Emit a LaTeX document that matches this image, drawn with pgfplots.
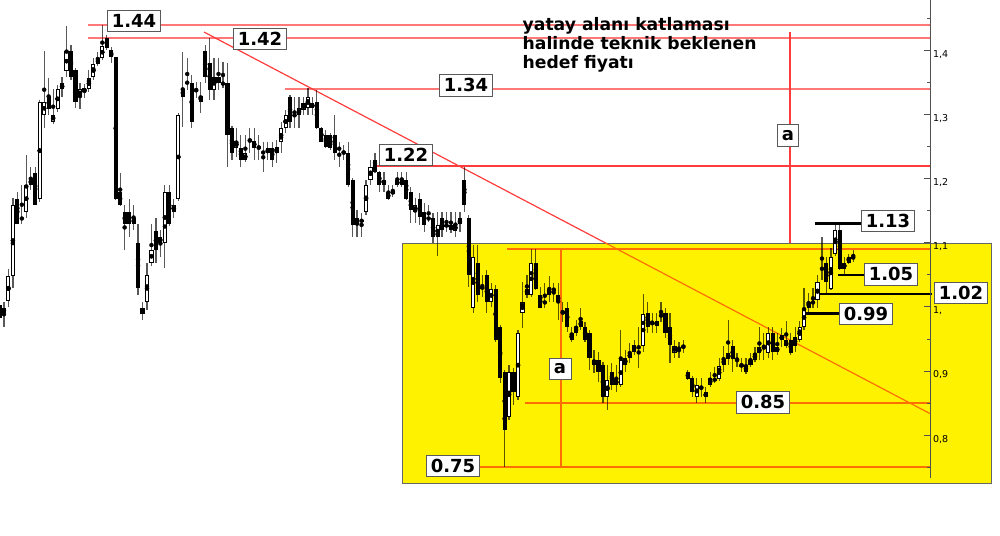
\documentclass[border=0pt]{standalone}
\usepackage{pgfplots}
\pgfplotsset{compat=1.18}
\usepackage{pgfplotstable}
\usepackage{fontspec}
\setmainfont{DejaVu Sans}
\newfontfamily\notefont{DejaVu Sans}
\newfontfamily\tickfont{DejaVu Sans}
\newfontfamily\lblfont{DejaVu Sans}

\definecolor{zone}{RGB}{255,242,0}
\definecolor{axisgray}{RGB}{80,80,80}
\definecolor{levelpink}{RGB}{255,120,120}
\definecolor{levelred}{RGB}{255,60,60}
\definecolor{levelorange}{RGB}{255,110,0}

% bar number, open, high, low, close
\pgfplotstableread{
i o h l c
0 1.003 1.011 0.967 0.983
1 0.990 1.008 0.969 0.998
2 1.009 1.059 1.000 1.048
3 1.048 1.170 1.029 1.159
4 1.168 1.179 1.129 1.129
5 1.137 1.190 1.129 1.139
6 1.148 1.237 1.139 1.190
7 1.190 1.218 1.182 1.200
8 1.209 1.218 1.159 1.159
9 1.168 1.323 1.164 1.320
10 1.300 1.399 1.279 1.320
11 1.328 1.357 1.300 1.309
12 1.289 1.340 1.285 1.300
13 1.309 1.346 1.304 1.340
14 1.340 1.359 1.328 1.349
15 1.368 1.438 1.359 1.399
16 1.399 1.409 1.354 1.359
17 1.370 1.373 1.310 1.320
18 1.328 1.349 1.309 1.340
19 1.335 1.348 1.326 1.342
20 1.340 1.370 1.335 1.357
21 1.359 1.388 1.354 1.379
22 1.388 1.398 1.376 1.379
23 1.388 1.440 1.385 1.407
24 1.420 1.424 1.401 1.404
25 1.401 1.406 1.381 1.390
26 1.390 1.390 1.167 1.168
27 1.179 1.209 1.157 1.159
28 1.148 1.159 1.089 1.129
29 1.148 1.168 1.109 1.129
30 1.139 1.159 1.120 1.129
31 1.100 1.129 1.019 1.029
32 0.989 1.008 0.980 0.998
33 1.008 1.069 0.995 1.050
34 1.069 1.129 1.064 1.089
35 1.118 1.139 1.069 1.089
36 1.109 1.120 1.078 1.100
37 1.100 1.190 1.061 1.179
38 1.179 1.190 1.126 1.129
39 1.148 1.168 1.139 1.159
40 1.168 1.303 1.165 1.300
41 1.340 1.398 1.281 1.328
42 1.349 1.388 1.339 1.351
43 1.349 1.362 1.279 1.289
44 1.337 1.351 1.326 1.339
45 1.329 1.351 1.303 1.320
46 1.399 1.409 1.349 1.359
47 1.381 1.420 1.323 1.339
48 1.339 1.388 1.323 1.359
49 1.359 1.388 1.339 1.349
50 1.348 1.382 1.342 1.349
51 1.349 1.381 1.218 1.268
52 1.279 1.282 1.229 1.240
53 1.248 1.279 1.234 1.259
54 1.248 1.268 1.218 1.229
55 1.229 1.268 1.226 1.240
56 1.259 1.279 1.240 1.261
57 1.259 1.279 1.229 1.248
58 1.248 1.268 1.229 1.250
59 1.242 1.257 1.210 1.240
60 1.248 1.257 1.229 1.240
61 1.248 1.257 1.218 1.229
62 1.240 1.261 1.225 1.250
63 1.257 1.289 1.240 1.279
64 1.279 1.307 1.271 1.300
65 1.328 1.331 1.279 1.289
66 1.298 1.328 1.279 1.300
67 1.300 1.328 1.279 1.310
68 1.307 1.328 1.300 1.318
69 1.310 1.342 1.300 1.328
70 1.318 1.328 1.300 1.310
71 1.320 1.338 1.278 1.279
72 1.279 1.281 1.257 1.257
73 1.268 1.276 1.248 1.250
74 1.268 1.271 1.245 1.248
75 1.268 1.300 1.229 1.240
76 1.246 1.257 1.218 1.248
77 1.242 1.253 1.229 1.240
78 1.240 1.257 1.187 1.190
79 1.198 1.201 1.109 1.128
80 1.139 1.151 1.109 1.128
81 1.133 1.147 1.109 1.136
82 1.148 1.198 1.143 1.190
83 1.198 1.229 1.190 1.218
84 1.229 1.240 1.209 1.211
85 1.211 1.212 1.179 1.190
86 1.198 1.211 1.179 1.190
87 1.179 1.190 1.167 1.168
88 1.178 1.190 1.172 1.179
89 1.190 1.211 1.187 1.198
90 1.198 1.211 1.187 1.190
91 1.198 1.211 1.167 1.168
92 1.179 1.187 1.131 1.151
93 1.148 1.170 1.131 1.159
94 1.168 1.178 1.128 1.140
95 1.148 1.162 1.117 1.128
96 1.137 1.159 1.133 1.139
97 1.139 1.147 1.100 1.109
98 1.109 1.148 1.079 1.128
99 1.139 1.148 1.109 1.120
100 1.126 1.148 1.117 1.128
101 1.128 1.148 1.115 1.120
102 1.118 1.148 1.109 1.129
103 1.139 1.148 1.117 1.129
104 1.198 1.218 1.148 1.159
105 1.139 1.143 1.031 1.050
106 0.998 1.097 0.990 1.078
107 1.069 1.097 1.008 1.019
108 1.029 1.050 1.015 1.031
109 1.050 1.058 0.990 1.008
110 1.008 1.037 1.000 1.028
111 1.028 1.034 0.945 0.948
112 0.969 0.972 0.881 0.889
113 0.898 0.901 0.750 0.808
114 0.828 0.909 0.823 0.898
115 0.898 0.905 0.847 0.867
116 0.859 0.964 0.855 0.959
117 0.990 1.039 0.967 1.008
118 1.019 1.050 1.014 1.028
119 1.019 1.090 1.015 1.069
120 1.069 1.090 1.026 1.028
121 1.019 1.031 0.998 0.998
122 1.006 1.037 0.998 1.008
123 1.019 1.048 1.008 1.028
124 1.026 1.037 1.008 1.028
125 1.019 1.037 0.980 1.008
126 0.992 1.008 0.976 0.990
127 0.998 1.008 0.961 0.969
128 0.948 0.969 0.945 0.959
129 0.969 0.980 0.955 0.959
130 0.978 0.998 0.964 0.969
131 0.969 0.976 0.945 0.948
132 0.959 0.964 0.901 0.920
133 0.917 0.933 0.897 0.909
134 0.917 0.930 0.883 0.898
135 0.909 0.914 0.850 0.859
136 0.859 0.909 0.839 0.886
137 0.898 0.912 0.870 0.878
138 0.878 0.909 0.867 0.887
139 0.878 0.964 0.875 0.917
140 0.920 0.933 0.898 0.909
141 0.920 0.944 0.912 0.928
142 0.941 0.948 0.925 0.930
143 0.928 0.969 0.905 0.930
144 0.939 1.020 0.930 0.989
145 0.990 1.008 0.959 0.969
146 0.975 0.990 0.959 0.976
147 0.978 0.990 0.959 0.970
148 0.986 1.008 0.976 0.987
149 0.990 0.998 0.951 0.959
150 0.969 0.990 0.912 0.941
151 0.928 0.948 0.920 0.939
152 0.934 0.945 0.920 0.936
153 0.937 0.948 0.928 0.939
154 0.898 0.901 0.886 0.887
155 0.889 0.892 0.859 0.867
156 0.859 0.889 0.850 0.878
157 0.873 0.889 0.859 0.875
158 0.859 0.875 0.850 0.867
159 0.878 0.898 0.875 0.889
160 0.886 0.906 0.881 0.887
161 0.887 0.920 0.884 0.908
162 0.919 0.939 0.898 0.909
163 0.919 0.980 0.909 0.928
164 0.939 0.948 0.898 0.919
165 0.917 0.928 0.906 0.919
166 0.908 0.920 0.898 0.909
167 0.898 0.920 0.895 0.909
168 0.909 0.928 0.906 0.917
169 0.917 0.937 0.914 0.928
170 0.928 0.969 0.917 0.937
171 0.936 0.959 0.917 0.937
172 0.928 0.969 0.920 0.959
173 0.959 0.969 0.917 0.930
174 0.930 0.959 0.925 0.937
175 0.948 0.967 0.937 0.956
176 0.948 0.978 0.936 0.939
177 0.948 0.959 0.925 0.928
178 0.953 0.969 0.930 0.939
179 0.948 0.978 0.945 0.969
180 0.969 1.029 0.964 0.998
181 1.008 1.022 0.990 0.998
182 1.006 1.029 0.998 1.008
183 1.011 1.050 0.998 1.039
184 1.058 1.109 1.042 1.061
185 1.069 1.078 1.020 1.039
186 1.028 1.092 1.026 1.078
187 1.083 1.131 1.079 1.120
188 1.120 1.131 1.058 1.059
189 1.069 1.078 1.050 1.059
190 1.069 1.083 1.067 1.078
191 1.076 1.089 1.070 1.078
}\candles

\begin{document}
\begin{tikzpicture}[
  lbl/.style={draw=black!65, fill=white, line width=1pt,
    font=\lblfont\bfseries\fontsize{18}{18}\selectfont,
    inner xsep=4pt, inner ysep=4pt},
]
\begin{axis}[
  scale only axis,
  width=930pt, height=478pt,
  xmin=0.112, xmax=208.17,
  ymin=0.733, ymax=1.479,
  clip=false,
  axis on top,
  axis x line=none,
  axis y line=right,
  axis line style={-, draw=axisgray, line width=0.9pt},
  ytick={0.8,0.9,1.0,1.1,1.2,1.3,1.4},
  yticklabels={{0,8},{0,9},{1,},{1,1},{1,2},{1,3},{1,4}},
  minor ytick={0.75,0.85,0.95,1.05,1.15,1.25,1.35,1.45},
  tick align=inside,
  major tick length=6pt,
  minor tick length=3.5pt,
  every tick/.style={draw=axisgray, line width=0.9pt},
  yticklabel style={font=\tickfont\fontsize{9.5}{11}\selectfont, text=black,
    xshift=-0.5pt, yshift=-4pt},
  lvlw/.style={draw=levelpink, line width=1.6pt, mark=none},
  lvlr/.style={draw=levelred, line width=1.5pt, mark=none},
  lvly/.style={draw=levelorange, line width=1.5pt, mark=none},
  blk/.style={draw=black, line width=2.6pt, mark=none},
]
% picture frame
\coordinate (pbl) at (axis cs:0.112,0.6439);
\coordinate (ptr) at (axis cs:223.83,1.479);

% consolidation zone
\fill[zone, draw=black!60, line width=0.8pt]
  (axis cs:90.04,0.725) rectangle (axis cs:222.0,1.0997);

% support / resistance levels
\addplot[lvlw] coordinates {(19.8,1.44) (208.17,1.44)};
\addplot[lvlw] coordinates {(19.8,1.42) (208.17,1.42)};
\addplot[lvlw] coordinates {(63.9,1.34) (208.17,1.34)};
\addplot[lvlr] coordinates {(84.4,1.22) (208.17,1.22)};
\addplot[lvly] coordinates {(113.5,1.09) (208.17,1.09)};
\addplot[lvly] coordinates {(117.6,0.85) (208.17,0.85)};
\addplot[lvly] coordinates {(107.5,0.75) (208.17,0.75)};
% falling trend line
\addplot[lvlr, line width=1.2pt] coordinates {(45.75,1.429) (135.6,1.0997)};
\addplot[lvly, line width=1.2pt] coordinates {(135.6,1.0997) (208.17,0.8335)};
% range height "a"
\addplot[lvly] coordinates {(125.6,1.09) (125.6,0.75)};
\addplot[lvlr] coordinates {(176.8,1.429) (176.8,1.0997)};

% wicks
\addplot[only marks, mark=none,
  error bars/.cd, y dir=both, y explicit, error mark=none,
  error bar style={draw=black, draw opacity=0.65, line width=1.2pt}]
  table[x=i, y expr={(\thisrow{h}+\thisrow{l})/2},
        y error expr={(\thisrow{h}-\thisrow{l})/2}] {\candles};
% bodies
\addplot[only marks, mark=none,
  error bars/.cd, y dir=both, y explicit, error mark=none,
  error bar style={draw=black, line width=4.1pt}]
  table[x=i, y expr={(\thisrow{o}+\thisrow{c})/2},
        y error expr={max(abs(\thisrow{c}-\thisrow{o})/2,0.0008)}] {\candles};
% hollow bodies of rising bars
\addplot[only marks, mark=none,
  restrict expr to domain={\thisrow{c}-\thisrow{o}}{0.0035:1},
  error bars/.cd, y dir=both, y explicit, error mark=none,
  error bar style={draw=white, line width=2.1pt}]
  table[x=i, y expr={(\thisrow{o}+\thisrow{c})/2},
        y error expr={(\thisrow{c}-\thisrow{o})/2-0.0016}] {\candles};

% short target marks
\addplot[blk] coordinates {(182.4,1.13) (193.0,1.13)};
\addplot[blk] coordinates {(187.6,1.05) (193.6,1.05)};
\addplot[blk] coordinates {(183.6,1.02) (208.6,1.02)};
\addplot[blk] coordinates {(180.2,0.99) (188.0,0.99)};

% level labels
\node[lbl] at (axis cs:30.09,1.446) {1.44};
\node[lbl] at (axis cs:58.28,1.418) {1.42};
\node[lbl] at (axis cs:104.36,1.346) {1.34};
\node[lbl] at (axis cs:90.94,1.237) {1.22};
\node[lbl] at (axis cs:198.77,1.134) {1.13};
\node[lbl] at (axis cs:199.44,1.051) {1.05};
\node[lbl] at (axis cs:215.1,1.022) {1.02};
\node[lbl] at (axis cs:193.85,0.989) {0.99};
\node[lbl] at (axis cs:170.8,0.851) {0.85};
\node[lbl] at (axis cs:101.45,0.752) {0.75};
\node[lbl, minimum height=21pt, minimum width=22pt] at (axis cs:125.4,0.903) {a};
\node[lbl, minimum height=22pt, minimum width=21pt] at (axis cs:176.4,1.268) {a};

\node[anchor=north west, align=left, inner sep=0pt,
  font=\notefont\bfseries\fontsize{17.2}{19}\selectfont]
  at (axis cs:117.0,1.4514)
  {yatay alanı katlaması\\halinde teknik beklenen\\hedef fiyatı};
\end{axis}
\pgfresetboundingbox
\useasboundingbox (pbl) rectangle (ptr);
\end{tikzpicture}
\end{document}
